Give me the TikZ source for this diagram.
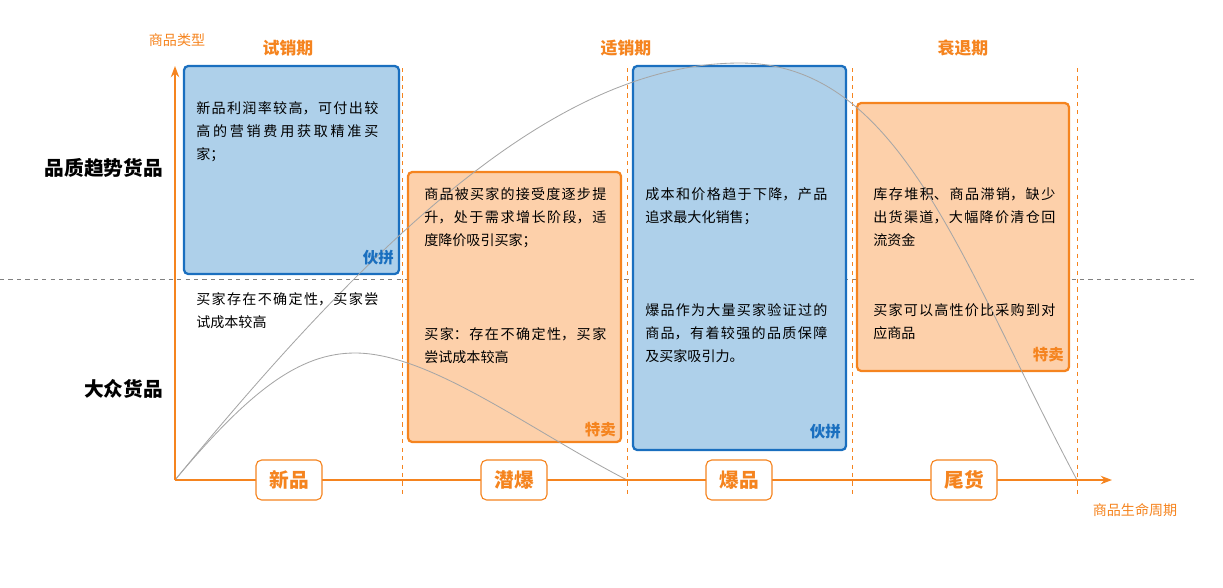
\documentclass[tikz,border=0pt]{standalone}
\usepackage{fontspec}
\setmainfont{Noto Sans CJK SC}
\XeTeXlinebreaklocale "zh"
\XeTeXlinebreakskip=0pt plus 1pt
\usetikzlibrary{positioning,arrows.meta}
\definecolor{orgline}{HTML}{F5841F}
\definecolor{orgfill}{HTML}{FDD0AA}
\definecolor{bluline}{HTML}{1A6FBF}
\definecolor{blufill}{HTML}{AED0EA}
\begin{document}
\begin{tikzpicture}[x=0.025cm,y=-0.025cm,>={Stealth[length=8pt,width=6pt]}]
  \useasboundingbox (0,0) rectangle (1223,587);
  \tikzset{
    bluebox/.style={draw=bluline,fill=blufill,line width=1.6pt,rounded corners=3pt},
    orangebox/.style={draw=orgline,fill=orgfill,line width=1.6pt,rounded corners=3pt},
    boxtext/.style={font=\fontsize{10}{16.5}\selectfont,text width=4.55cm,align=justify,anchor=north west,inner sep=0pt},
    phase/.style={font=\fontsize{12}{14}\selectfont\bfseries,text=orgline},
    stage/.style={draw=orgline,line width=0.8pt,fill=white,rounded corners=4pt,minimum width=1.65cm,minimum height=1cm,font=\fontsize{14}{16}\selectfont\bfseries,text=orgline},
    tag/.style={font=\fontsize{11}{13}\selectfont\bfseries,anchor=south east,inner sep=2pt},
    rowlabel/.style={font=\fontsize{14}{16}\selectfont\bfseries,anchor=east},
    divider/.style={orgline,dashed,line width=0.5pt},
    curve/.style={gray!70,line width=0.6pt}
  }

  % row divider and phase dividers
  \draw [gray,dashed,line width=0.5pt] (0,279) -- (1195,279);
  \foreach \x in {402,627,852,1077}
    \draw [divider] (\x,68) -- (\x,495);

  % boxes
  \draw [bluebox] (184,66) rectangle (399,274);
  \draw [orangebox] (408,172) rectangle (621,442);
  \draw [bluebox] (633,66) rectangle (846,450);
  \draw [orangebox] (857,103) rectangle (1069,371);

  % curves
  \coordinate (origin) at (175,480);
  \coordinate (endA) at (627,480);
  \coordinate (endB) at (1077,480);
  \draw [curve] (origin) .. controls (250,390) and (300,353) .. (355,353)
    .. controls (430,353) and (530,430) .. (endA);
  \draw [curve] (origin) .. controls (380,230) and (560,63) .. (740,63)
    .. controls (900,63) and (960,260) .. (endB);

  % axes
  \draw [->,orgline,line width=1.2pt] (origin) -- (175,66);
  \draw [->,orgline,line width=1.2pt] (origin) -- (1112,480);
  \node [font=\fontsize{10}{12}\selectfont,text=orgline] (yname) at (177,40) {商品类型};
  \node [font=\fontsize{10}{12}\selectfont,text=orgline] (xname) at (1135,510) {商品生命周期};

  % phases
  \node [phase] (p1) at (288,48) {试销期};
  \node [phase] (p2) at (626,48) {适销期};
  \node [phase] (p3) at (963,48) {衰退期};

  % row labels
  \node [rowlabel] (quality) at (168,168) {品质趋势货品};
  \node [rowlabel] (mass) at (168,389) {大众货品};

  % box texts
  \node [boxtext] (t1) at (196,101) {新品利润率较高，可付出较高的营销费用获取精准买家；};
  \node [boxtext] (t2) at (196,292) {买家存在不确定性，买家尝试成本较高};
  \node [boxtext] (t3) at (424,187) {商品被买家的接受度逐步提升，处于需求增长阶段，适度降价吸引买家；};
  \node [boxtext] (t4) at (424,327) {买家：存在不确定性，买家尝试成本较高};
  \node [boxtext] (t5) at (645,187) {成本和价格趋于下降，产品追求最大化销售；};
  \node [boxtext] (t6) at (645,303) {爆品作为大量买家验证过的商品，有着较强的品质保障及买家吸引力。};
  \node [boxtext] (t7) at (873,187) {库存堆积、商品滞销，缺少出货渠道，大幅降价清仓回流资金};
  \node [boxtext] (t8) at (873,303) {买家可以高性价比采购到对应商品};

  % tags
  \node [tag,text=bluline] (g1) at (397,268) {伙拼};
  \node [tag,text=orgline] (g2) at (619,440) {特卖};
  \node [tag,text=bluline] (g3) at (844,442) {伙拼};
  \node [tag,text=orgline] (g4) at (1067,365) {特卖};

  % stages
  \node [stage] (s1) at (289,480) {新品};
  \node [stage] (s2) at (514,480) {潜爆};
  \node [stage] (s3) at (739,480) {爆品};
  \node [stage] (s4) at (964,480) {尾货};
\end{tikzpicture}
\end{document}
